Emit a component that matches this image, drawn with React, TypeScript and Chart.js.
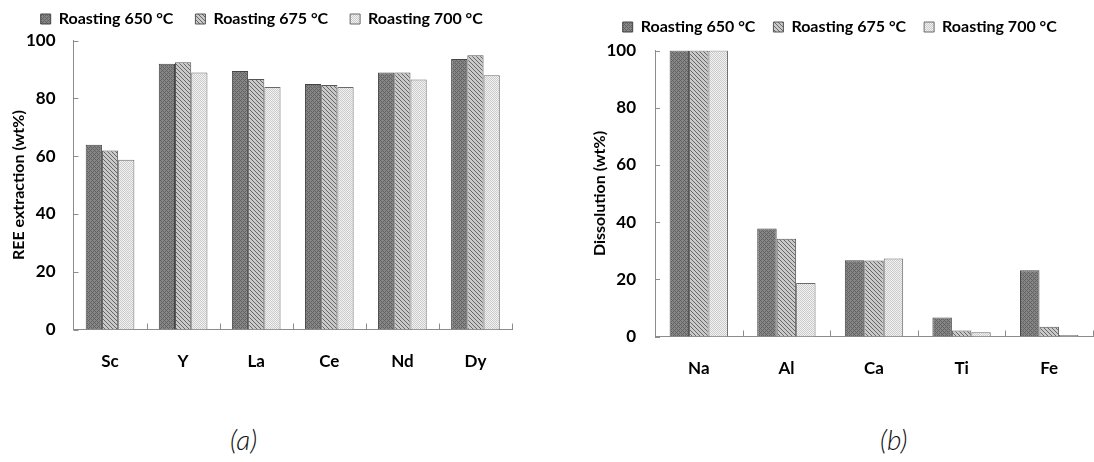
import React, { useEffect, useRef } from 'react';
import { Chart, registerables } from 'chart.js';

Chart.register(...registerables);

// ---------- data ----------
const seriesNames = ['Roasting 650 °C', 'Roasting 675 °C', 'Roasting 700 °C'];

const catsA = ['Sc', 'Y', 'La', 'Ce', 'Nd', 'Dy'];
const reeAt650 = [64.0, 92.0, 89.5, 85.0, 89.0, 93.7];
const reeAt675 = [62.0, 92.5, 86.7, 84.7, 89.0, 95.0];
const reeAt700 = [58.8, 89.0, 84.0, 84.0, 86.6, 88.0];

const catsB = ['Na', 'Al', 'Ca', 'Ti', 'Fe'];
const dissAt650 = [100, 37.8, 26.7, 6.6, 23.2];
const dissAt675 = [100, 34.2, 26.6, 2.1, 3.4];
const dissAt700 = [100, 18.7, 27.3, 1.5, 0.5];

const yTicks = [0, 20, 40, 60, 80, 100];

const titleA = 'REE extraction (wt%)';
const titleB = 'Dissolution (wt%)';

// ---------- styles ----------
const FONT = 'Lato';

function makePattern(kind: number): CanvasPattern | string {
  const c = document.createElement('canvas');
  c.width = 4;
  c.height = 4;
  const g = c.getContext('2d');
  if (!g) return '#888';
  for (let x = 0; x < 4; x++) {
    for (let y = 0; y < 4; y++) {
      let col: string;
      if (kind === 0) {
        col = (x + y) % 4 === 0 || (x - y + 4) % 4 === 0 ? '#636363' : '#858585';
      } else if (kind === 1) {
        col = (x - y + 4) % 4 === 0 ? '#666666' : '#cacaca';
      } else {
        col = (x + y) % 2 === 0 ? '#cbcbcb' : '#f2f2f2';
      }
      g.fillStyle = col;
      g.fillRect(x, y, 1, 1);
    }
  }
  const p = g.createPattern(c, 'repeat');
  return p || '#888';
}

interface Layout {
  width: number;
  height: number;
  axisX: number;
  axisBottom: number;
  chartTop: number;
  padRight: number;
  legendBoxX: number;
  legendTextY: number;
  legendPad: number;
  titleCenterX: number;
  tickPad: number;
}

function legendPlace(cfg: Layout) {
  return {
    id: 'legendPlace',
    beforeLayout(chart: any) {
      const lg = chart.legend;
      if (lg && !lg.__patched) {
        const orig = lg.fit.bind(lg);
        lg.fit = function () {
          orig();
          this.height = cfg.chartTop;
        };
        lg.__patched = true;
      }
    },
    afterLayout(chart: any) {
      const lg = chart.legend;
      if (!lg) return;
      const w = lg.right - lg.left;
      const p = cfg.legendPad;
      const itemH = 16;
      lg.left = cfg.legendBoxX - p;
      lg.right = lg.left + w;
      lg.top = cfg.legendTextY - p - itemH / 2;
      lg.bottom = lg.top + cfg.chartTop;
    },
  };
}

const inwardTicks = {
  id: 'inwardTicks',
  afterDraw(chart: any) {
    const { ctx, chartArea } = chart;
    const xs = chart.scales.x;
    const ys = chart.scales.y;
    ctx.save();
    ctx.strokeStyle = '#8c8c8c';
    ctx.lineWidth = 1;
    ctx.beginPath();
    const n = xs.getLabels().length;
    for (let i = 1; i <= n; i++) {
      const px = Math.round(xs.getPixelForValue(i - 0.5)) + 0.5;
      ctx.moveTo(px, chartArea.bottom);
      ctx.lineTo(px, chartArea.bottom - 6);
    }
    ys.ticks.forEach((_t: any, i: number) => {
      const py = Math.round(ys.getPixelForTick(i)) + 0.5;
      ctx.moveTo(chartArea.left, py);
      ctx.lineTo(chartArea.left + 5, py);
    });
    ctx.stroke();
    ctx.restore();
  },
};

function buildChart(
  canvas: HTMLCanvasElement,
  cats: string[],
  s650: number[],
  s675: number[],
  s700: number[],
  yTitle: string,
  L: Layout
) {
  const pats = [makePattern(0), makePattern(1), makePattern(2)];
  const series = [s650, s675, s700];
  const borders = ['#444444', '#555555', '#6a6a6a'];
  return new Chart(canvas, {
    type: 'bar',
    data: {
      labels: cats,
      datasets: series.map((d, i) => ({
        label: seriesNames[i],
        data: d,
        backgroundColor: pats[i] as any,
        borderColor: borders[i],
        borderWidth: 1,
        borderSkipped: 'start' as const,
        categoryPercentage: 0.666,
        barPercentage: 1,
      })),
    },
    options: {
      responsive: false,
      animation: false,
      devicePixelRatio: 1,
      layout: { padding: { left: 0, top: 0, right: L.padRight, bottom: 0 } },
      plugins: {
        legend: {
          display: true,
          position: 'top',
          align: 'start',
          labels: {
            boxWidth: 10,
            boxHeight: 10,
            padding: L.legendPad,
            color: '#000',
            font: { family: FONT, size: 16, weight: 'bold' },
          },
        },
        tooltip: { enabled: false },
      },
      scales: {
        x: {
          type: 'category',
          offset: true,
          grid: { display: false, offset: true },
          border: { display: true, color: '#8c8c8c', width: 1 },
          ticks: {
            color: '#000',
            padding: 14,
            font: { family: FONT, size: 17, weight: 'bold' },
            maxRotation: 0,
          },
          afterFit: (s: any) => {
            s.height = L.height - L.axisBottom;
          },
        },
        y: {
          min: 0,
          max: 100,
          grid: { display: false, drawTicks: false },
          border: { display: true, color: '#8c8c8c', width: 1 },
          afterBuildTicks: (s: any) => {
            s.ticks = yTicks.map((v) => ({ value: v }));
          },
          ticks: {
            color: '#000',
            padding: L.tickPad,
            font: { family: FONT, size: 17, weight: 'bold' },
          },
          title: {
            display: true,
            text: yTitle,
            color: '#000',
            font: { family: FONT, size: 16, weight: 'bold' },
            padding: { top: L.titleCenterX - 9.6, bottom: 0 },
          },
          afterFit: (s: any) => {
            s.width = L.axisX;
          },
        },
      },
    },
    plugins: [legendPlace(L), inwardTicks],
  });
}

const layoutA: Layout = {
  width: 540,
  height: 400,
  axisX: 73.5,
  axisBottom: 329.5,
  chartTop: 40.7,
  padRight: 28,
  legendBoxX: 40.7,
  legendTextY: 19,
  legendPad: 22,
  titleCenterX: 19,
  tickPad: 18,
};

const layoutB: Layout = {
  width: 554,
  height: 400,
  axisX: 115,
  axisBottom: 336.5,
  chartTop: 50.5,
  padRight: 1,
  legendBoxX: 82.7,
  legendTextY: 27,
  legendPad: 18,
  titleCenterX: 60,
  tickPad: 19,
};

export default function App() {
  const refA = useRef<HTMLCanvasElement>(null);
  const refB = useRef<HTMLCanvasElement>(null);

  useEffect(() => {
    document.body.style.margin = '0';
    const a = refA.current ? buildChart(refA.current, catsA, reeAt650, reeAt675, reeAt700, titleA, layoutA) : null;
    const b = refB.current ? buildChart(refB.current, catsB, dissAt650, dissAt675, dissAt700, titleB, layoutB) : null;
    return () => {
      a?.destroy();
      b?.destroy();
    };
  }, []);

  const capStyle: React.CSSProperties = {
    position: 'absolute',
    top: 423,
    fontFamily: FONT,
    fontStyle: 'italic',
    fontWeight: 300,
    fontSize: 28,
    color: '#111',
    lineHeight: '32px',
  };

  return (
    <div style={{ position: 'fixed', left: 0, top: 0, width: 1094, height: 462, background: '#fff', overflow: 'hidden' }}>
      <canvas ref={refA} width={layoutA.width} height={layoutA.height} style={{ position: 'absolute', left: 0, top: 0, width: layoutA.width, height: layoutA.height }} />
      <canvas ref={refB} width={layoutB.width} height={layoutB.height} style={{ position: 'absolute', left: 540, top: 0, width: layoutB.width, height: layoutB.height }} />
      <div style={{ ...capStyle, left: 230 }}>(a)</div>
      <div style={{ ...capStyle, left: 880 }}>(b)</div>
    </div>
  );
}
